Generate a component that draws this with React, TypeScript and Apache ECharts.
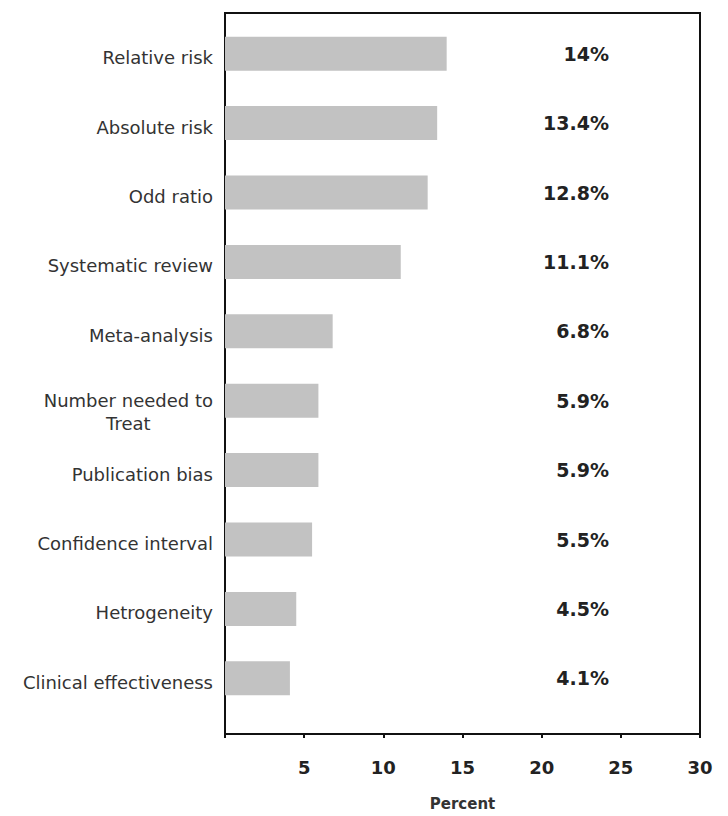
import React, { useEffect, useRef } from "react";
import * as echarts from "echarts";

const categories = [
  "Relative risk",
  "Absolute risk",
  "Odd ratio",
  "Systematic review",
  "Meta-analysis",
  "Number needed to\nTreat",
  "Publication bias",
  "Confidence interval",
  "Hetrogeneity",
  "Clinical effectiveness",
];
const values = [14, 13.4, 12.8, 11.1, 6.8, 5.9, 5.9, 5.5, 4.5, 4.1];
const xTicks = [5, 10, 15, 20, 25, 30];
const axisName = "Percent";

const FONT = "DejaVu Sans";

export default function App() {
  const ref = useRef<HTMLDivElement>(null);
  useEffect(() => {
    document.body.style.margin = "0";
    const chart = echarts.init(ref.current!, undefined, { renderer: "svg" });
    const valueLabels = values.map((v) => `${v}%`);
    const catData = categories.map((c) => {
      const parts = c.split("\n");
      if (parts.length > 1) {
        return {
          value: `{a|${parts[0]}}\n{b|${parts[1]}}`,
          textStyle: { padding: [22, 0, 0, 0] },
        };
      }
      return { value: c, textStyle: { padding: [8, 0, 0, 0] } };
    });
    chart.setOption({
      animation: false,
      backgroundColor: "#ffffff",
      grid: [
        { left: 225, right: 28, top: 13, bottom: 76, show: true, borderColor: "#111", borderWidth: 2, backgroundColor: "transparent" },
        { left: 225, right: 28, top: 19, bottom: 103 },
      ],
      xAxis: [
        {
          gridIndex: 0,
          type: "value",
          min: 0,
          max: 30,
          interval: 5,
          axisLine: { show: true, lineStyle: { color: "#111", width: 2 } },
          axisTick: { show: true, length: 4, lineStyle: { color: "#111", width: 2 } },
          splitLine: { show: false },
          axisLabel: {
            margin: 24,
            fontFamily: FONT,
            fontSize: 18,
            fontWeight: "bold",
            color: "#222",
            formatter: (v: number) => (xTicks.includes(v) ? String(v) : ""),
          },
          name: axisName,
          nameLocation: "middle",
          nameGap: 62,
          nameTextStyle: { fontFamily: FONT, fontSize: 15, fontWeight: "bold", color: "#333" },
        },
        { gridIndex: 1, type: "value", min: 0, max: 30, show: false },
      ],
      yAxis: [
        { gridIndex: 0, type: "value", show: false },
        {
          gridIndex: 1,
          type: "category",
          inverse: true,
          data: catData,
          axisLine: { show: false },
          axisTick: { show: false },
          axisLabel: {
            margin: 12,
            fontFamily: FONT,
            fontSize: 18,
            color: "#333",
            lineHeight: 23,
            rich: {
              a: { fontFamily: FONT, fontSize: 18, color: "#333", lineHeight: 23 },
              b: { fontFamily: FONT, fontSize: 18, color: "#333", lineHeight: 23, align: "center" },
            },
          },
        },
        {
          gridIndex: 1,
          type: "category",
          inverse: true,
          position: "right",
          data: valueLabels,
          axisLine: { show: false },
          axisTick: { show: false },
          axisLabel: {
            inside: true,
            margin: 91,
            align: "right",
            padding: [0, 0, 9, 0],
            fontFamily: FONT,
            fontSize: 19,
            fontWeight: "bold",
            color: "#222",
          },
        },
      ],
      series: [
        {
          type: "bar",
          xAxisIndex: 1,
          yAxisIndex: 1,
          data: values,
          barWidth: 34,
          itemStyle: { color: "#c2c2c2" },
        },
      ],
    });
    return () => chart.dispose();
  }, []);
  return <div ref={ref} style={{ width: 728, height: 816 }} />;
}
